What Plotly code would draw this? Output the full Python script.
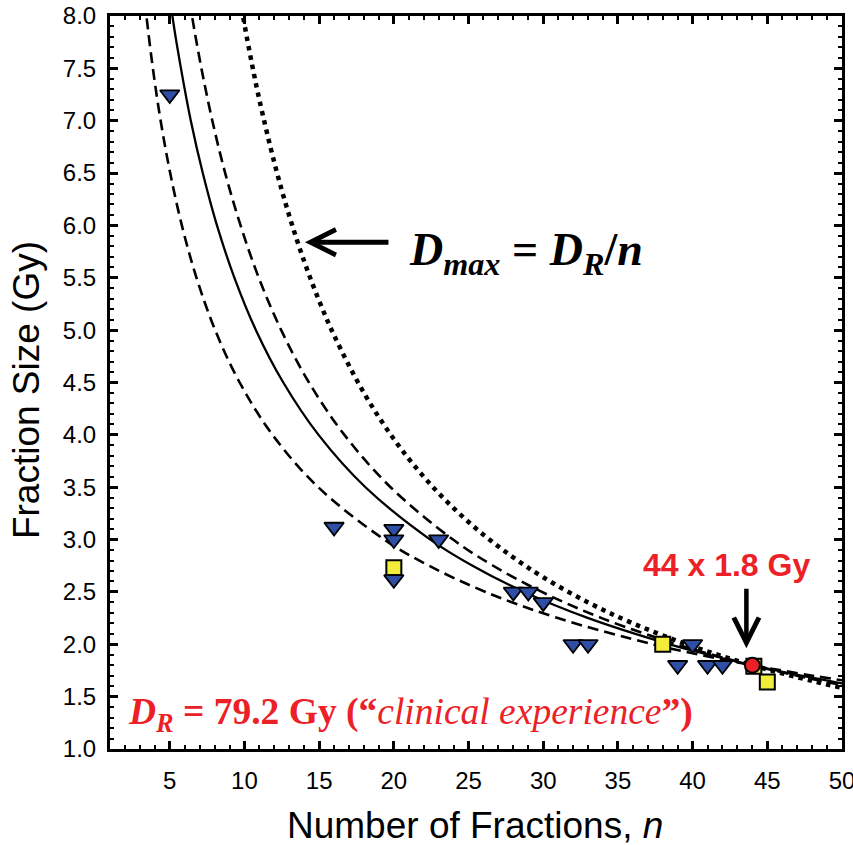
import plotly.graph_objects as go

# ---------------- data ----------------
# isoeffect curves (fraction size d vs number of fractions n)
solid_d = [8.3, 8.0, 7.5, 7.0, 6.5, 6.0, 5.5, 5.0, 4.5, 4.0, 3.5, 3.0, 2.75, 2.5, 2.25, 2.0, 1.9, 1.8, 1.7, 1.6]
solid_n = [4.95, 5.18, 5.75, 6.41, 7.21, 8.16, 9.33, 10.77, 12.60, 14.96, 18.10, 22.44, 25.27, 28.72, 33.02, 38.47, 41.08, 44.0, 47.28, 51.0]

upper_d = [8.3, 8.0, 7.5, 7.0, 6.5, 6.0, 5.5, 5.0, 4.5, 4.0, 3.5, 3.0, 2.75, 2.5, 2.25, 2.0, 1.9, 1.8, 1.7, 1.6]
upper_n = [6.18, 6.49, 7.12, 7.85, 8.71, 9.74, 10.96, 12.46, 14.32, 16.69, 19.78, 23.96, 26.65, 29.91, 33.91, 38.94, 41.33, 44.0, 46.99, 50.35]

lower_d = [8.3, 8.0, 7.5, 7.0, 6.5, 6.0, 5.5, 5.0, 4.5, 4.0, 3.5, 3.0, 2.75, 2.5, 2.25, 2.0, 1.9, 1.8, 1.7, 1.65]
lower_n = [3.23, 3.44, 3.87, 4.39, 5.03, 5.81, 6.79, 8.04, 9.68, 11.88, 14.94, 19.36, 22.36, 26.14, 30.98, 37.34, 40.46, 44.0, 48.04, 50.29]

dmax_n = [9.6, 9.9, 10.5, 11, 12, 13, 14, 15, 16, 18, 20, 22, 24, 26, 28, 30, 33, 36, 40, 44, 48, 50.5]
dmax_d = [8.25, 8.0, 7.543, 7.2, 6.6, 6.092, 5.657, 5.28, 4.95, 4.4, 3.96, 3.6, 3.3, 3.046, 2.829, 2.64, 2.4, 2.2, 1.98, 1.8, 1.65, 1.568]

tri_n = [5, 16, 20, 20, 20, 23, 28, 29, 30, 32, 33, 39, 40, 41, 42]
tri_d = [7.25, 3.12, 3.10, 3.0, 2.62, 3.0, 2.5, 2.5, 2.4, 2.0, 2.0, 1.8, 2.0, 1.8, 1.8]

sq_n = [20, 38, 44.1, 45]
sq_d = [2.73, 2.0, 1.79, 1.64]

pt_n = [44]
pt_d = [1.8]

x_ticks = [5, 10, 15, 20, 25, 30, 35, 40, 45, 50]
y_ticks = [1.0, 1.5, 2.0, 2.5, 3.0, 3.5, 4.0, 4.5, 5.0, 5.5, 6.0, 6.5, 7.0, 7.5, 8.0]

RED = "#EC2027"
SANS = "Liberation Sans, Arial, sans-serif"
SERIF = "Liberation Serif, Times New Roman, serif"

fig = go.Figure()

fig.add_trace(go.Scatter(x=dmax_n, y=dmax_d, mode="lines", line_shape="spline",
                         line=dict(color="black", width=4.5, dash="4.5px,5px"), hoverinfo="skip"))
fig.add_trace(go.Scatter(x=lower_n, y=lower_d, mode="lines", line_shape="spline",
                         line=dict(color="black", width=2.6, dash="11px,6px"), hoverinfo="skip"))
fig.add_trace(go.Scatter(x=upper_n, y=upper_d, mode="lines", line_shape="spline",
                         line=dict(color="black", width=2.6, dash="11px,6px"), hoverinfo="skip"))
fig.add_trace(go.Scatter(x=solid_n, y=solid_d, mode="lines", line_shape="spline",
                         line=dict(color="black", width=2.3), hoverinfo="skip"))

fig.add_trace(go.Scatter(x=sq_n, y=sq_d, mode="markers",
                         marker=dict(symbol="square", size=15, color="#F2EC3B",
                                     line=dict(color="black", width=2))))
fig.add_trace(go.Scatter(x=tri_n, y=tri_d, mode="markers",
                         marker=dict(symbol="triangle-down", size=17, color="#2F4FA6",
                                     line=dict(color="black", width=1.8))))
fig.add_trace(go.Scatter(x=pt_n, y=pt_d, mode="markers",
                         marker=dict(symbol="circle", size=15, color=RED,
                                     line=dict(color="black", width=2))))

annotations = [
    # D_max label + arrow
    dict(x=20.9, y=5.74, xref="x", yref="y", xanchor="left", yanchor="middle", showarrow=False,
         text="<b><i>D<sub>max</sub></i> = <i>D<sub>R</sub></i>/<i>n</i></b>",
         font=dict(family=SERIF, size=46, color="black")),
    dict(x=14.05, y=5.84, xref="x", yref="y", ax=85, ay=0, text="", showarrow=True,
         arrowhead=5, arrowwidth=5, arrowsize=1.0, arrowcolor="black"),
    # 44 x 1.8 Gy label + arrow
    dict(x=42.3, y=2.76, xref="x", yref="y", xanchor="center", yanchor="middle", showarrow=False,
         text="<b>44 x 1.8 Gy</b>", font=dict(family=SANS, size=32, color=RED)),
    dict(x=43.6, y=1.963, xref="x", yref="y", ax=0, ay=-61, text="", showarrow=True,
         arrowhead=5, arrowwidth=4.5, arrowsize=1.1, arrowcolor="black"),
    # D_R label
    dict(x=2.1, y=1.33, xref="x", yref="y", xanchor="left", yanchor="middle", showarrow=False,
         text="<b><i>D<sub>R</sub></i> = 79.2 Gy (\u201c</b><i>clinical experience</i><b>\u201d)</b>",
         font=dict(family=SERIF, size=37.5, color=RED)),
    # axis titles
    dict(x=-0.113, y=0.49, xref="paper", yref="paper", xanchor="center", yanchor="middle",
         showarrow=False, textangle=-90, text="Fraction Size (Gy)",
         font=dict(family=SANS, size=37, color="black")),
    dict(x=0.498, y=-0.105, xref="paper", yref="paper", xanchor="center", yanchor="middle",
         showarrow=False, text="Number of Fractions, <i>n</i>",
         font=dict(family=SANS, size=37, color="black")),
]

axis_common = dict(showgrid=False, zeroline=False, showline=True, linecolor="black", linewidth=3,
                   mirror="allticks", ticks="inside", ticklen=8, tickwidth=2.5, tickcolor="black",
                   automargin=False, ticklabeloverflow="allow",
                   tickfont=dict(family=SANS, size=24, color="black"))

fig.update_layout(
    width=853, height=845, margin=dict(l=110, r=11, t=16, b=96),
    paper_bgcolor="white", plot_bgcolor="white", showlegend=False,
    xaxis=dict(range=[1, 50], tickvals=x_ticks, ticktext=[str(v) for v in x_ticks],
               minor=dict(ticks="inside", ticklen=4, tickwidth=2, tickcolor="black", dtick=1, tick0=0),
               ticklabelstandoff=8, **axis_common),
    yaxis=dict(range=[1, 8], tickvals=y_ticks, ticktext=[f"{v:.1f}" for v in y_ticks],
               minor=dict(ticks="inside", ticklen=4, tickwidth=2, tickcolor="black", dtick=0.1, tick0=0),
               ticklabelstandoff=6, **axis_common),
    annotations=annotations,
)

fig.write_html("out.html")
